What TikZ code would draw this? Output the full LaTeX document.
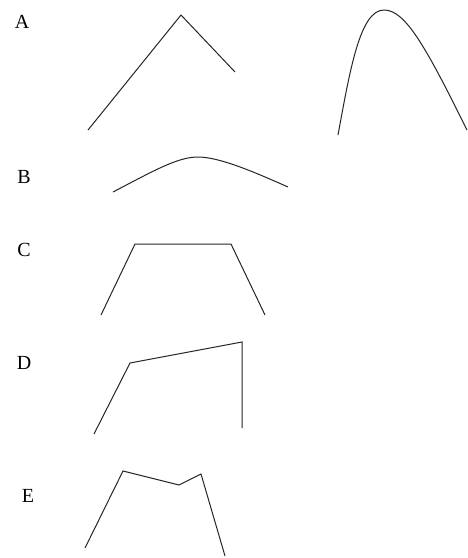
\documentclass[tikz,border=0pt]{standalone}
\usepackage{fontspec}
\setmainfont{Liberation Serif}
\begin{document}
\begin{tikzpicture}[x=1pt,y=-1pt,
  lab/.style={font=\fontsize{20}{20}\selectfont, inner sep=0pt, anchor=center},
  ln/.style={draw=black!85, line width=1pt, line join=miter}]
\useasboundingbox (0,0) rectangle (468,558);
\fill[white] (0,0) rectangle (468,558);
% labels
\node[lab] (la) at (22,22) {A};
\node[lab] (lb) at (24,177) {B};
\node[lab] (lc) at (24,250) {C};
\node[lab] (ld) at (24,363) {D};
\node[lab] (le) at (28,496) {E};
% A
\draw[ln] (88,130) -- (181,15) -- (235,72);
\draw[ln] (338,135) .. controls (350,70) and (360,10) .. (384,10)
  .. controls (405,10) and (425,45) .. (467,130);
% B
\draw[ln] (113,192) .. controls (155,170) and (178,157) .. (198,157)
  .. controls (218,157) and (250,170) .. (288,187);
% C
\draw[ln] (101,315) -- (135,244) -- (231,244) -- (265,315);
% D
\draw[ln] (94,434) -- (130,363) -- (242,342) -- (242,428);
% E
\draw[ln] (85,548) -- (123,471) -- (179,485) -- (201,474) -- (225,556);
\end{tikzpicture}
\end{document}
